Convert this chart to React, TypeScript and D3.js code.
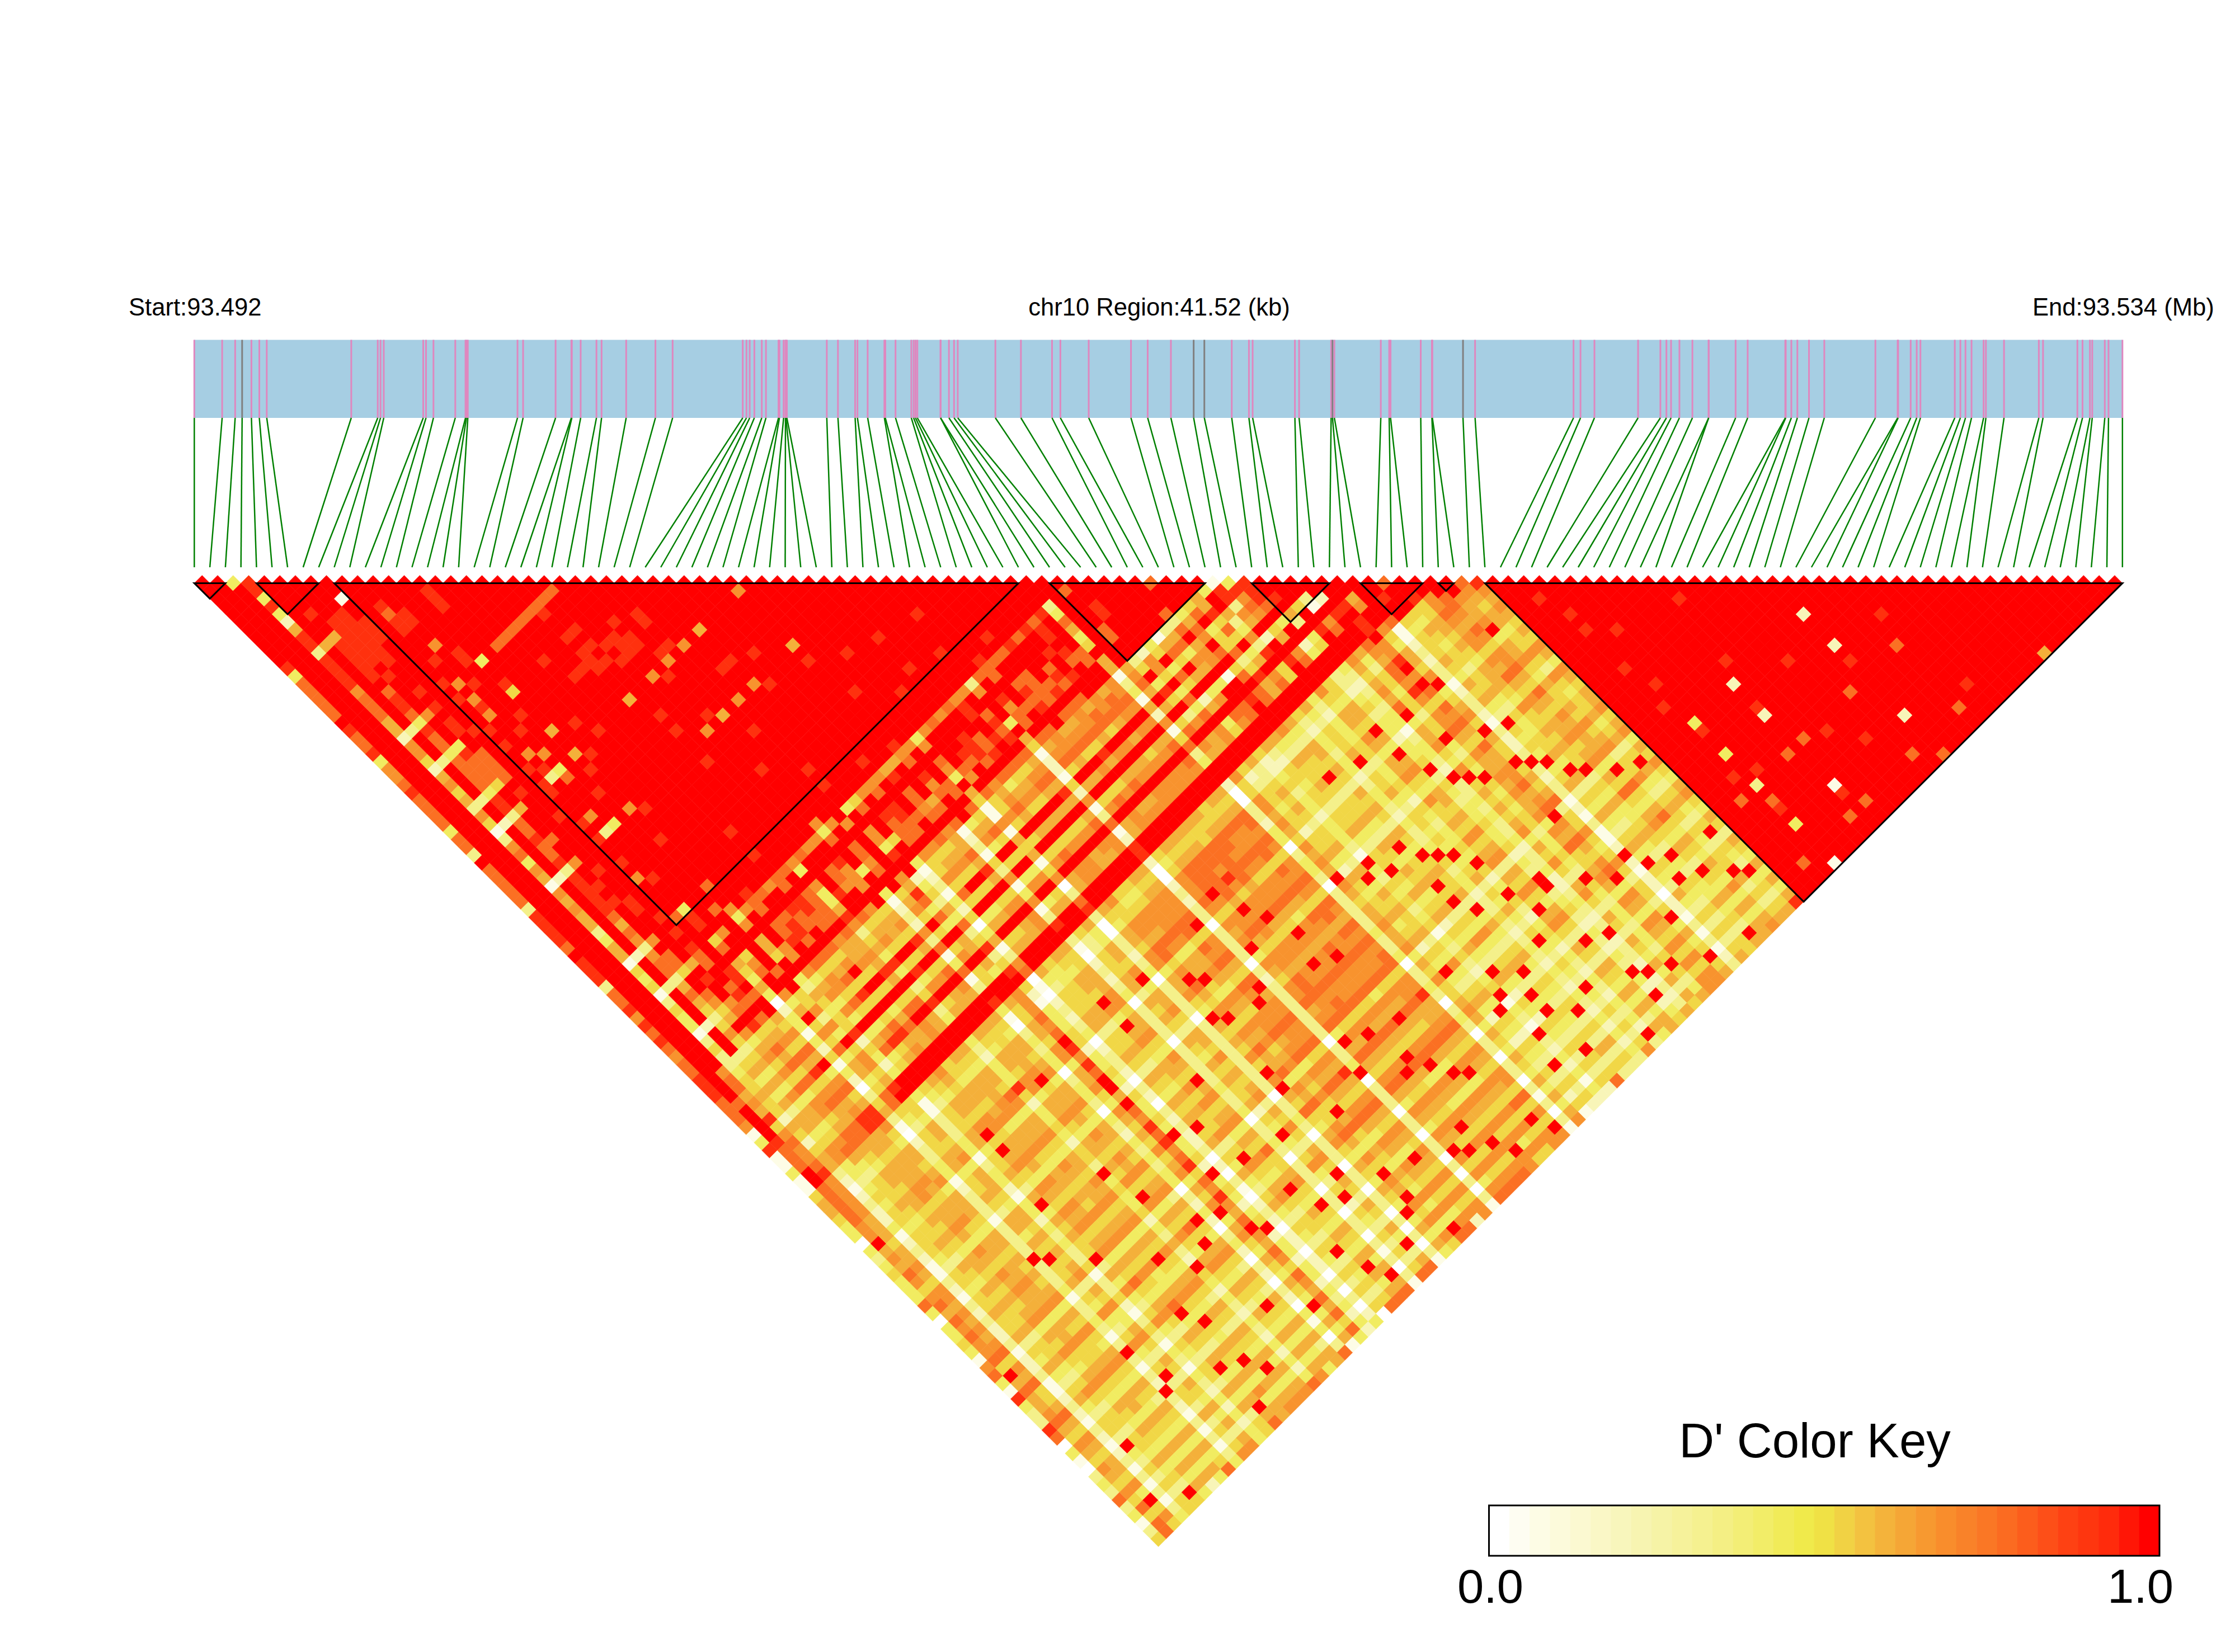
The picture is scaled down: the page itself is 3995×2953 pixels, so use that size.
import * as d3 from 'd3';

const WIDTH = 3995;
const HEIGHT = 2953;

// SNP positions in kb from the region start
const SNP_KB = [
  0, 0.6, 0.88, 1.03, 1.23, 1.4, 1.56, 3.38, 3.95, 4.01, 4.08, 4.93, 4.99, 5.15, 5.62, 5.84, 5.86, 5.89, 6.96, 7.08,
  7.78, 8.12, 8.13, 8.32, 8.66, 8.77, 9.3, 9.93, 10.3, 11.81, 11.89, 11.96, 12.06, 12.22, 12.31, 12.58, 12.6, 12.69, 12.73, 12.74,
  12.76, 13.62, 13.86, 14.23, 14.28, 14.5, 14.86, 14.88, 15.1, 15.44, 15.49, 15.53, 15.57, 16.07, 16.07, 16.25, 16.36, 16.44, 17.25, 17.8,
  18.47, 18.65, 19.26, 20.17, 20.53, 21.03, 21.52, 21.75, 22.34, 22.71, 22.79, 23.7, 23.79, 24.48, 24.51, 24.55, 25.55, 25.73, 25.76, 26.41,
  26.65, 26.66, 27.32, 27.58, 29.7, 29.85, 30.15, 31.09, 31.57, 31.7, 31.8, 31.98, 32.26, 32.61, 32.61, 33.19, 33.45, 34.26, 34.27, 34.39,
  34.52, 34.77, 35.1, 36.2, 36.68, 36.69, 36.96, 37.09, 37.17, 37.91, 38.03, 38.14, 38.27, 38.53, 38.58, 38.97, 39.72, 39.81, 40.55, 40.66,
  40.82, 40.87, 41.14, 41.22, 41.52,
];
const GREY_SNPS = [3, 66, 67, 74, 82];
const BLOCKS = [[0, 2], [4, 8], [9, 53], [55, 65], [68, 73], [75, 79], [80, 81], [83, 124]];

// D' per column j (j = 1..124), chars are i = 0..j-1, spaces only help counting. a = 1.0
const LD_COLUMNS = [
  'a', 'aa', 'aa4', 'aaa9', 'aaa9a', 'aaa4aa', 'aaa9aaa', 'aaa4aaaa', 'aaa2aaaaa', 'aaa6a9aaaa',
  'aaa9aaaa1aa', '9aa9aa99aa aa', '4aa36699aa aaa', '8aa9a9999a 9aaa', '8aa9a9999a 8aaaa', '8aa9a9999a 99aa9a',
  '8aa9a999aa 99aa9aa', '8aa7a9a9aa aaaa9aaa', 'aaa8aa9aaa aaaaaaaaa', '9aa8a8aaaa a7aaaaaaaa',
  '8aa8a9aaaa 9aaaaaaaaaa', '8aa6a9a9aa aa9aaaaaaa aa', '9aa6a8aaa9 aa9aaaaaaa aaa', '4aa23479aa 7aa4a88888 888a',
  '7aa7a9aaa9 a9aaaaaaaa 9aaaa', '7aa7a8a9aa 7aaaaaaaaa aaaaaa', '8aa5a8a9aa 9aa9aaaaaa aaaaaaa', '9aa2344a9a 7aa5aaa9aa 99aaaaaa',
  '8aa6a89aa9 aaaaaaaaaa aaaaaaaaa', '8aa7a888aa aa9aaaaaaa 99aa9aaaaa', '8aa5a888a9 a9aaaaaa99 9a99aa9aaaa', '8aa6a888aa aaaaaaaaaa 99a99a9aaa aa',
  '4aa33458aa 7aa6aaaaaa aa999aaaaa aaa', '8aa7a9aaa9 a7aaa9aaaa aaaaaaaaaa aaaa', '8aa5a9a9aa 9aaaaaaaaa aaaaa99aaa aaaaa', '3aa1236aa9 34a6aa9aaa 6aa7a7a7a6 aaaa7a',
  'aaa3a8aaa9 a8aa9aaaaa aaaa9aaaaa aaaaaaa', '8aa7a8aaaa aaa9aaaaaa aaaaaaaaaa aaaaaaaa', '8aa8a9aa9a aaaaaaaaaa a9aaaaaaaa aaaaaaaaa', '8aa4a88aaa aa9aaaaaaa aaaaaaaa99 aaaaaaaaaa',
  '8aa7a8aaa9 7aaaaaaaaa a9aaaaaaaa a9aaaaaaaa a', '8aa6a9aaaa aaaaaaaaaa aaaa9aaaaa aaaaaaaaaa aa', '3aa1237aa9 34a7aaaaaa aaa7a6a7a7 aaaa6aaaaa aaa', '9aa7a9aaaa aaaa9aaaaa aaaaaaaaaa 9aaaaaaaaa aaaa',
  '9aa6a9a9aa aaaaaaaaaa a9aaaaaaaa aaaa9aaaaa aaaaa', '9aa7a99aa9 aaaaaaaaaa aaaaaa9aaa aaaaaaaaaa aaaaaa', '9aa6a9aaaa aaa9aaaaaa aaaaaaaaaa aaaaaaa9aa aaaaaaa', '8aa6a99aa7 aaaaaaaaaa aaaaaaaaaa aaaaaaaaaa 9aaaaaaa',
  'aaa3a8a9aa 9aaaaaaaaa aaaa9aaaaa aaaaaaaaaa aaaa9aaaa', '9aa4a6a9aa aaaaaaaaaa aaaaaaaaaa aaaaa9aaaa aaaaaaaaaa', '9aa6a8aaaa aaaaaaaa9a aaaaaaaaaa aaaaaaaaaa aaaaaaaaaa a', '9aa6a7aa9a aaaaaaaaaa aaaaaaa9aa aaaaaaaaaa 9aaaaaaaaa aa',
  '3aa1237aa8 4aa8aaaaaa aaaaaaaaaa aaaaaaaa9a aaa9aaaaaa aaa',
  '8aa5a7aa9a 9aaaaaaa9a aaaaaaa9aa aaaaaaaaaa aaaaaaaaaa aaaa',
  '8aa4a88aaa 9a8aaaaaaa aaaaaaaaaa a9aaaaaaaa aaaaaaa9aa aaaaa',
  '9aa5a88a9a aaa7a9aaaa aaaa7aaaaa aaaa9aaaaa aaaaa9aaaa aaaaaa',
  '7aa133568a 57a4788788 787747a457 7766774787 8773888898 9893a8a',
  '9aa3a6aa8a 8aa7a8aa8a 4aaa8a7a8a 8a9a8a7aaa a9a7a8aaaa a9a4aaaa',
  '8aa5a8a9aa aaaaaaaaaa aaaaaaaaaa aaaaaaaaaa a9aaaaaaaa a9a8aaaaa',
  '9aa4a68aa9 65a6a88998 7a89a8a7a9 9a8a9a8aa9 aa8a9a88aa 9aa6aa9aaa',
  '8aa4a57a89 57a6a89898 4a87a8a7a8 9a8a7a7a99 8a9a7a98a8 a9a4aa9aaaa',
  '7aa123579a 48a5799888 497747a458 8876884889 8984888889 a885a8aaaaa8',
  '8aa3a56888 6a8a7a8a88 6aa7a8a9a8 8a88a8a7a8 9a9a8a9898 9a8aa8aaaaaaa',
  '8aa5a7aaaa 4aaaaaaaaa 9aaaaaaaaa aaaaaa6aaa aaa6aaaaaa aaa6aaaaaaaaaa',
  '9aa3a5798a 07a4788878 787a4a7a47 7878a85878 888588a888 aaa6aaaaaa8aaaa',
  '9a73334556 2453455566 3555156215 5561451564 5561676676 7671632413 345641',
  '9a84556665 4656676766 5666269425 6662661576 6772777778 7873757566 8686a94',
  '8a85667877 4a75778a77 6767378537 7783787787 7882888888 88848a7a88 a8a9a999',
  '8865445655 1534455556 4555254315 5561451565 5661565565 6771645454 67456379a',
  '8a76667888 4775789aa9 9aa97a8648 aa95aa6aaa aa95aaa9aa aaa6a9a8a7 7a583789aa',
  '7a65445566 2545455556 4556354425 5563555566 6662667677 6772654566 785546789aa',
  '1a9567889a 58a9aaaaaa a9aa8aa85a aaa7aa6aaa aaa7aaaaaa aaa7aa8aaa aa8a7aaaaaaa',
  '4a52344554 1452445455 3455156304 4551441555 5561555666 5661534244 15343254653aa',
  '9976667777 4675678688 5778476546 6774775787 7783787877 778587867a a8569a6a3a12aa',
  '1885667888 26748998aa 9aaa8aa96a aaa7aa7aaa aaa8aaaaaa aaa8aaaaaa aa9aaaaaaaaaaaa',
  '1872445665 0452456676 3567156315 5671450677 6771676677 7783767488 9867597249 7996aa',
  '4875556676 3564567676 4666354536 6673663677 6672677777 7774667578 a8685a845a 8aa7aa8',
  '1a86778899 589aaaaaaa aaaaaaa97a aaa9aa8aaa aaa9aaaaaa aaaaaaaaaa aaaaaaaaaa aa9aa9aa',
  '1a96788899 68aaaaaaaa aaaa9aaa8a aaaaaa9aaa aaa9aaaaaa aaaaaaaaaa aaaaaaaaaa aa9aaaaaa',
  '5873466667 3554567566 4666467506 5663563675 5662566666 5662756566 7656475347 68a78aa9aa',
  '6872445665 1451456555 3555157214 4551340554 4550455555 5550523234 4434355336 477515557a a',
  '6871334554 0341345444 2454057103 4450340455 5660566656 6660533223 3323244225 3674144578 a8',
  '5872456666 2563566666 4666368425 5662563677 7772788888 8883755456 6645466436 5896256688 779',
  '4873556666 3563566666 4666467435 5663563677 7773788888 7783756555 5645466547 58a6355677 667a',
  '4762455665 3553555565 4565358425 5562552566 7772788787 7772645345 5535455336 4775254566 656aa',
  '0762566776 4664677678 977647a536 6a73673788 88838a8988 8884756456 a64657a448 59a7365678 767aaa',
  '4a64556767 46746a7777 57a7479546 67746a4787 78a3778787 7874655455 554a56644a 578a355577 a66aaaa',
  '3651445554 1441455444 2454047203 3450340454 4550556565 5550523233 3323344214 3554143455 445aa9aa',
  '4762556666 25635a6666 4666369425 5a63663676 687377a777 7873755455 563546a436 5785265677 656aaaaaa',
  '5663555666 3564566666 4666468435 56635636a6 6773677777 7774655455 5545466446 5776355667 655aaaaaaa',
  '4872566776 3664677777 577747a536 677367378a 7883788a88 8884766466 6646577547 a887366688 777aaa9aaa a',
  '4761455655 3552556555 456535a425 5553553565 6663a67666 6773644344 4534455a35 4665244566 556aaaaaaa aa',
  '4551334444 1341344444 2444046203 3440330454 4550455554 5550a23133 3323244324 355a133455 434aaa9aaa aaa',
  '8773566766 3664677676 567647a536 6673663a77 78837777a7 8883766a56 66455765a7 57863a5778 677aaaaaaa aaaa',
  '4872556666 3664a66666 5666368425 56635636a6 67a2677777 787365a455 a53545643a 4665254566 556aaaaa9a aaaaa',
  '0661445555 3452455555 3555257404 4553453555 5a63566666 66635443a4 4434355335 a665244555 545aaaaaaa aaaaaa',
  '4873566766 3664677667 a676469536 67a3673677 7773787a78 7883656556 5a45466446 577a355667 656aaaaaaa aaaa9aa',
  '4762555665 a553566566 4565358425 5563553566 777378777a 7773655445 55a4455435 4675a45566 556aaa9aaa aaaaaaaa',
  '5873666776 3a64677777 5777479a36 6774663787 8883888888 8884766566 665a577546 57863a6677 767aaaaaaa aaaaaaaaa',
  '4762555665 3553555555 455535742a 5553553565 6773677777 7773645344 a534455435 4665244556 545aaaaaaa aaaaaaaaaa',
  '1772556666 3563566666 4a66468425 5663563a66 7773778777 7783655455 5545a66436 567635a566 656aaaa9aa aaaaaaaaaa a',
  '7883667777 4675a77777 5777479536 7774673787 8883888888 8884766566 a646577547 5788366a77 767aaaaaaa aaaaaaaaaa aa',
  '8551334444 1331344444 2443045203 3440230a44 4550455554 5550423123 3323233224 34a3133344 334aaa9aaa aaaaaaaaaa aaa',
  '4a72556666 3563666666 4666368a25 5663563676 7773a77777 7773655455 5a35466436 477525556a 556aaaaaaa aaa9aaaaaa aaaa',
  '1662455655 3453455555 3555257404 a553453565 666366a666 6773544344 4434a55335 4665144455 5a5aaaaaaa aaaaaaaaaa aaaaa',
  '9883667777 47757877a7 678a479536 7784a74887 889488888a 88947a7567 7656577a47 5887366688 767aaaa9aa aaaaaaaaaa aaaaaa',
  '4651445555 3442455455 35552a7414 5553453555 666a666666 6663544344 4434355a25 4565144455 445aaaa9aa aaaaaaaaaa aaaaaaa',
  '3651334554 1341344444 24a4046203 445033045a 5550555555 5660533233 33232a4323 3554133444 334aaaaaaa aaaaaaa9aa aaaaaaaa',
  '3762556666 3563566666 a666368425 6663563676 7773777a77 77736554a5 5535466436 a675255566 556aaaaaaa aa9aaaaaaa aaaaaaaaa',
  '9883677777 a775778777 577747a536 7a73773788 888388a888 8884766566 664a577547 5787a66678 667aaaaaaa aaaaaaaaaa aaaaaaaaaa',
  '8662455555 345345a555 4555257a24 5553453565 66636666a6 6663644a44 a434455335 46a5244555 545aaaaaaa aaaaaaaaaa aaaaaa9aaa a',
  '0551334444 1331334443 2443046203 34403a0444 4550455444 555042a123 3323233223 34431a3344 334aaa9aaa aaaaaaaaaa a9aaaaaaaa aa',
  '4773556666 3564566a66 4666368425 56a3563676 777377777a 777365545a 554546a436 4775255a66 556aaaaa9a aaaaaaaaaa aaaaaaaaaa aaa',
  '1662555655 2a53455555 3555257424 5553a53555 6663666666 a663544344 44343553a5 4665244455 4a5aaaaaaa aaaaaaaaaa aaaaaaaaaa aaaa',
  '0551334443 a331333433 2343045203 34402304a4 4450455444 455042212a 3323233223 344303a334 333aaaaaaa aaaaa9aaaa aaaaaaaaaa aaaaa',
  '3762a56666 3564566666 46a6368425 5663563676 7a73777777 7773655a55 554a466436 47752655a6 556aaaaaaa aaaaaaaaaa aaaaaaaaaa aaaaaa',
  '4663455555 25535a5555 3555257424 a553453565 666366a666 6673544344 4a34355335 466a244455 545aaaa9aa aaaaaaaaaa aaaaaaaaaa aaaaaaa',
  '3551344444 1342344a44 2444046203 34403304a4 5550a55555 5550433233 3323244a24 3554133444 a34aaaaaaa aaaaaaa9aa aaaaaaaaaa aaaaaaaa',
  '8773566666 3664666666 46664a8435 5663563a77 77737a7777 788365a455 55454664a6 5776355667 6a6aaaaaaa aaaaaaaaaa aaaaaaaaaa aaaaaaaaa',
  '3541344444 13424444a4 2444146303 4a41340454 5550555a55 555143323a 3323344224 a554133444 344aaaaaaa aa9aaaaaaa aaaaaaaaaa aaaaaaaaaa',
  '48a3556666 3564667666 4666468435 56635a3677 7773777777 7a73655455 6645466a36 5775355566 556aaaaaaa aaaaaaaaaa aaaaaaa9aa aaaaaaaaaa a',
  '1551334444 13323a4444 2443045203 34a0330444 45504555a4 5550423133 3323234223 355a133344 334aaaaaaa aaaaaaaaaa aaaaaaaaaa aaaaaaaaaa aa',
  '38735a6665 3564566666 4666368425 566356367a 7773777777 77a3655455 5545a66436 4775255a66 556aaaaaaa aaaaaaaaaa aaaaaaaaaa aaaaaaaaaa aaa',
  '5854554248 4774586777 8746814240 8881881458 8271888875 5771712228 3337346565 6776365667 669aaaaaaa aaaaaaaaaa aaaaaaaaaa aaaaaaaaaa aaaa',
];

// isolated pale or orange cells inside the big right hand block: [i, j, digit]
const LD_SPOTS = [
  [101, 106, 2], [92, 106, 2], [101, 110, 2], [105, 114, 8], [114, 124, 6], [99, 114, 8], [92, 110, 2], [101, 119, 2],
  [105, 122, 8], [87, 106, 4], [93, 114, 8], [87, 110, 4], [91, 114, 8], [99, 122, 8], [101, 124, 8], [87, 114, 3],
  [92, 119, 1], [85, 114, 8], [93, 122, 8], [87, 116, 8], [87, 119, 4], [91, 122, 8], [87, 124, 1], [85, 122, 8],
];

const DIGIT_VALUES = [0, 0.06, 0.2, 0.33, 0.42, 0.52, 0.6, 0.67, 0.77, 0.92, 1];

const KEY_STOPS = [0, 0.06, 0.2, 0.33, 0.485, 0.52, 0.6, 0.67, 0.77, 0.88, 0.94, 1];
const KEY_COLORS = ['#ffffff', '#fdfce6', '#f8f5b8', '#f4f08a', '#efe944', '#f1d746', '#f4b03a', '#f8932e', '#fb7023', '#fe3f12', '#ff2a0c', '#ff0000'];
const KEY_LEVELS = 33;

const color = d3.scaleLinear<string>().domain(KEY_STOPS).range(KEY_COLORS);

const x = d3.scaleLinear().domain([0, 124]).range([347.3, 3793.8]);
const kb = d3.scaleLinear().domain([0, 41.52]).range([347.3, 3793.8]);
const cellH = 13.89;
const topY = 1042.4;
const y = d3.scaleLinear().domain([1, 2]).range([topY, topY + cellH]);

const cells: { i: number; j: number; v: number }[] = [];
LD_COLUMNS.forEach((col, idx) => {
  const j = idx + 1;
  col.replace(/ /g, '').split('').forEach((ch, i) => {
    if (i < j) cells.push({ i, j, v: DIGIT_VALUES[parseInt(ch, 11)] });
  });
});
LD_SPOTS.forEach(([i, j, d]) => {
  const c = cells.find(m => m.i === i && m.j === j);
  if (c) c.v = DIGIT_VALUES[d];
});

const line = d3.line();

function diamond(i: number, j: number) {
  const cx = x((i + j) / 2);
  const cy = y(j - i);
  const hw = (x(1) - x(0)) / 2;
  return line([[cx, cy - cellH], [cx + hw, cy], [cx, cy + cellH], [cx - hw, cy]]) + 'Z';
}

const keyX = d3.scaleLinear().domain([0, KEY_LEVELS]).range([2661.5, 3860]);
const FONT = '"Liberation Sans", Arial, sans-serif';

export default function App() {
  const trackTop = 607.5;
  const trackBottom = 747;
  const linkBottom = 1014;
  return (
    <svg width={WIDTH} height={HEIGHT} viewBox={`0 0 ${WIDTH} ${HEIGHT}`}
      style={{ position: 'absolute', left: 0, top: 0, background: '#fff' }} fontFamily={FONT}>
      <text x={230} y={564} fontSize={43.6}>Start:93.492</text>
      <text x={2072} y={564} fontSize={43.6} textAnchor="middle">chr10 Region:41.52 (kb)</text>
      <text x={3633} y={564} fontSize={43.6}>End:93.534 (Mb)</text>

      <rect x={kb(0)} y={trackTop} width={kb(41.52) - kb(0)} height={trackBottom - trackTop} fill="#a6cee3" />
      {SNP_KB.map((p, i) => (
        <line key={i} x1={kb(p)} x2={kb(p)} y1={trackTop} y2={trackBottom}
          stroke={GREY_SNPS.includes(i) ? '#808080' : '#df87bf'} strokeWidth={3} />
      ))}
      {SNP_KB.map((p, i) => (
        <line key={i} x1={kb(p)} x2={x(i)} y1={trackBottom} y2={linkBottom} stroke="#008000" strokeWidth={2.5} />
      ))}

      <g>
        {cells.map(c => {
          const fill = color(c.v);
          return <path key={c.i + '-' + c.j} d={diamond(c.i, c.j)} fill={fill} stroke={fill} strokeWidth={0.6} />;
        })}
      </g>

      {BLOCKS.map(([a, b]) => (
        <path key={a} d={line([[x(a), topY], [x(b), topY], [x((a + b) / 2), topY + (b - a) * cellH]]) + 'Z'}
          fill="none" stroke="#000" strokeWidth={3} strokeLinejoin="miter" />
      ))}

      <text x={3244} y={2605} fontSize={87} textAnchor="middle">D' Color Key</text>
      {d3.range(KEY_LEVELS).map(k => (
        <rect key={k} x={keyX(k)} y={2691} width={keyX(1) - keyX(0) + 0.5} height={90} fill={color(k / (KEY_LEVELS - 1))} />
      ))}
      <rect x={keyX(0)} y={2691} width={keyX(KEY_LEVELS) - keyX(0)} height={90} fill="none" stroke="#000" strokeWidth={3} />
      <text x={2664} y={2865} fontSize={85} textAnchor="middle">0.0</text>
      <text x={3826} y={2865} fontSize={85} textAnchor="middle">1.0</text>
    </svg>
  );
}
